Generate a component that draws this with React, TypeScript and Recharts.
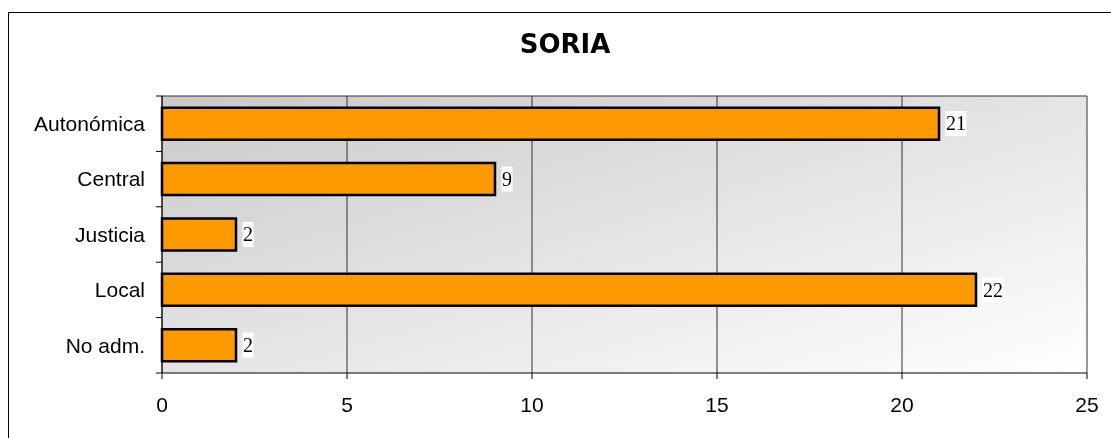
import React from 'react';
import { BarChart, Bar, XAxis, YAxis, CartesianGrid, LabelList, ReferenceLine } from 'recharts';

const title = 'SORIA';
const categories = ['Autonómica', 'Central', 'Justicia', 'Local', 'No adm.'];
const values = [21, 9, 2, 22, 2];
const xTicks = [0, 5, 10, 15, 20, 25];

const data = categories.map((c, i) => ({ name: c, value: values[i] }));

const YTick = (props: any) => {
  const { x, y, payload, index, visibleTicksCount } = props;
  const off = payload && payload.offset ? payload.offset : 0;
  const isLast = index === (visibleTicksCount ?? categories.length) - 1;
  return (
    <g>
      <line x1={x - 6} x2={x} y1={y - off} y2={y - off} stroke="#000" strokeWidth={1} />
      {isLast ? <line x1={x - 6} x2={x} y1={y + off} y2={y + off} stroke="#000" strokeWidth={1} /> : null}
      <text x={x - 17} y={y} dy="0.35em" textAnchor="end" fontFamily="'Liberation Sans', Arial, sans-serif" fontSize={21} fill="#000">
        {payload.value}
      </text>
    </g>
  );
};

const ValueLabel = (props: any) => {
  const { x, y, width, height, value } = props;
  const tx = Number(x) + Number(width) + 7;
  const cy = Number(y) + Number(height) / 2;
  const w = String(value).length * 10 + 1;
  return (
    <g>
      <rect x={tx - 0.5} y={cy - 12.5} width={w} height={25} fill="#fff" />
      <text x={tx} y={cy} dy="0.34em" fontFamily="'Liberation Serif', 'Times New Roman', serif" fontSize={20} fill="#000">
        {value}
      </text>
    </g>
  );
};

export default function App() {
  return (
    <div>
      <div
        style={{
          position: 'fixed',
          left: 8,
          top: 12,
          width: 1400,
          height: 800,
          border: '1px solid #000',
          boxSizing: 'border-box',
        }}
      />
      <div
        style={{
          position: 'fixed',
          left: 465,
          top: 31,
          width: 200,
          textAlign: 'center',
          fontFamily: "'DejaVu Sans', Verdana, sans-serif",
          fontWeight: 'bold',
          fontSize: 26,
          lineHeight: '26px',
          color: '#000',
        }}
      >
        {title}
      </div>
      <div style={{ position: 'fixed', left: 0, top: 0 }}>
        <BarChart
          width={1111}
          height={438}
          data={data}
          layout="vertical"
          margin={{ top: 96, right: 24, bottom: 0, left: 0 }}
          barCategoryGap="21%"
        >
          <defs>
            <linearGradient id="plotBg" x1="0" y1="0" x2="1" y2="1">
              <stop offset="0%" stopColor="#c9c9c9" />
              <stop offset="100%" stopColor="#ffffff" />
            </linearGradient>
          </defs>
          <CartesianGrid horizontal={false} vertical={true} stroke="#333" fill="url(#plotBg)" fillOpacity={1} />
          <XAxis
            type="number"
            domain={[0, 25]}
            ticks={xTicks}
            interval={0}
            height={65}
            axisLine={{ stroke: '#000', strokeWidth: 1 }}
            tickLine={{ stroke: '#000', strokeWidth: 1 }}
            tickSize={6}
            tickMargin={18}
            tick={{ fontFamily: "'Liberation Sans', Arial, sans-serif", fontSize: 21, fill: '#000' }}
          />
          <YAxis
            type="category"
            dataKey="name"
            width={162}
            axisLine={{ stroke: '#000', strokeWidth: 1 }}
            tickLine={false}
            tickSize={0}
            tickMargin={0}
            interval={0}
            tick={<YTick />}
          />
          <ReferenceLine y={categories[0]} position="start" stroke="#333" strokeWidth={1} ifOverflow="visible" />
          <Bar dataKey="value" fill="#FF9900" stroke="#000" strokeWidth={2.5} isAnimationActive={false}>
            <LabelList dataKey="value" content={<ValueLabel />} />
          </Bar>
        </BarChart>
      </div>
    </div>
  );
}
